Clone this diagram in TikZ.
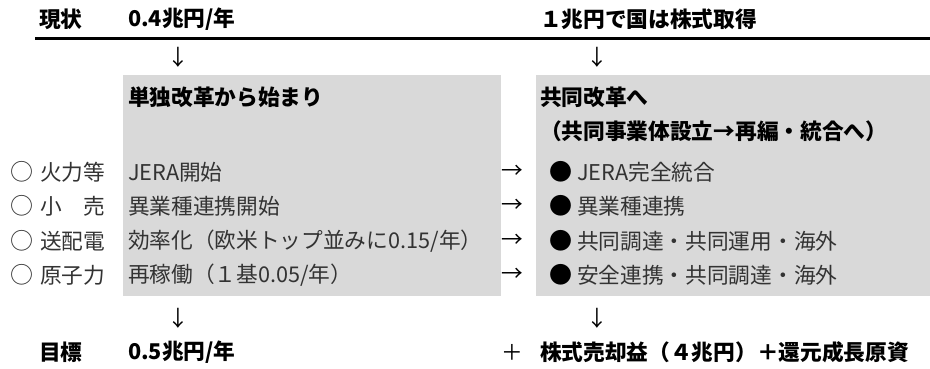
\documentclass[tikz,border=0pt]{standalone}
\usepackage{fontspec}
\setmainfont{Noto Sans CJK JP}
\definecolor{boxgray}{HTML}{D9D9D9}
\definecolor{txt}{HTML}{333333}
\begin{document}
\begin{tikzpicture}[x=1pt,y=-1pt,
  every node/.style={inner sep=0pt, outer sep=0pt, anchor=west},
  body/.style={font=\fontsize{21.7}{25}\selectfont, text=txt},
  hd/.style={font=\fontsize{21.7}{25}\selectfont\bfseries, text=black},
  mk/.style={font=\fontsize{23}{25}\selectfont, text=txt, anchor=center},
  arr/.style={font=\fontsize{21.7}{25}\selectfont, text=black, anchor=center}]
\useasboundingbox (0,0) rectangle (930,369);
\fill[white] (0,0) rectangle (930,369);
% grey panels
\fill[boxgray] (123,75) rectangle (501,296);
\fill[boxgray] (536,75) rectangle (930,296);
% rule
\coordinate (ruleL) at (35,39);
\coordinate (ruleR) at (930,39);
\draw[line width=3pt] (ruleL) -- (ruleR);
% header
\node[hd] (h1) at (39,19) {現状};
\node[hd] (h2) at (128,19) {0.4兆円/年};
\node[hd] (h3) at (540,19) {１兆円で国は株式取得};
\node[arr] (d1) at (178,57) {↓};
\node[arr] (d2) at (597,57) {↓};
% panel titles
\node[hd] (t1) at (128,97) {単独改革から始まり};
\node[hd] (t2) at (540,97) {共同改革へ};
\node[hd] (t3) at (540,131) {（共同事業体設立→再編・統合へ）};
% rows
\node[mk] (c1) at (22,172) {○};
\node[mk] (c2) at (22,206) {○};
\node[mk] (c3) at (22,241) {○};
\node[mk] (c4) at (22,275) {○};
\node[body] (l1) at (40,172) {火力等};
\node[body] (l2) at (40,206) {小　売};
\node[body] (l3) at (40,241) {送配電};
\node[body] (l4) at (40,275) {原子力};
\node[body] (m1) at (128,172) {JERA開始};
\node[body] (m2) at (128,206) {異業種連携開始};
\node[body] (m3) at (128,241) {効率化（欧米トップ並みに0.15/年）};
\node[body] (m4) at (128,275) {再稼働（１基0.05/年）};
\node[arr] (a1) at (512,172) {→};
\node[arr] (a2) at (512,206) {→};
\node[arr] (a3) at (512,241) {→};
\node[arr] (a4) at (512,275) {→};
\node[mk, text=black] (g1) at (561,172) {●};
\node[mk, text=black] (g2) at (561,206) {●};
\node[mk, text=black] (g3) at (561,241) {●};
\node[mk, text=black] (g4) at (561,275) {●};
\node[body] (r1) at (577,172) {JERA完全統合};
\node[body] (r2) at (577,206) {異業種連携};
\node[body] (r3) at (577,241) {共同調達・共同運用・海外};
\node[body] (r4) at (577,275) {安全連携・共同調達・海外};
% bottom
\node[arr] (d3) at (178,318) {↓};
\node[arr] (d4) at (597,318) {↓};
\node[hd] (b1) at (39,352) {目標};
\node[hd] (b2) at (128,352) {0.5兆円/年};
\node[arr] (p1) at (512,352) {＋};
\node[hd] (b3) at (540,352) {株式売却益（４兆円）＋還元成長原資};
\end{tikzpicture}
\end{document}
